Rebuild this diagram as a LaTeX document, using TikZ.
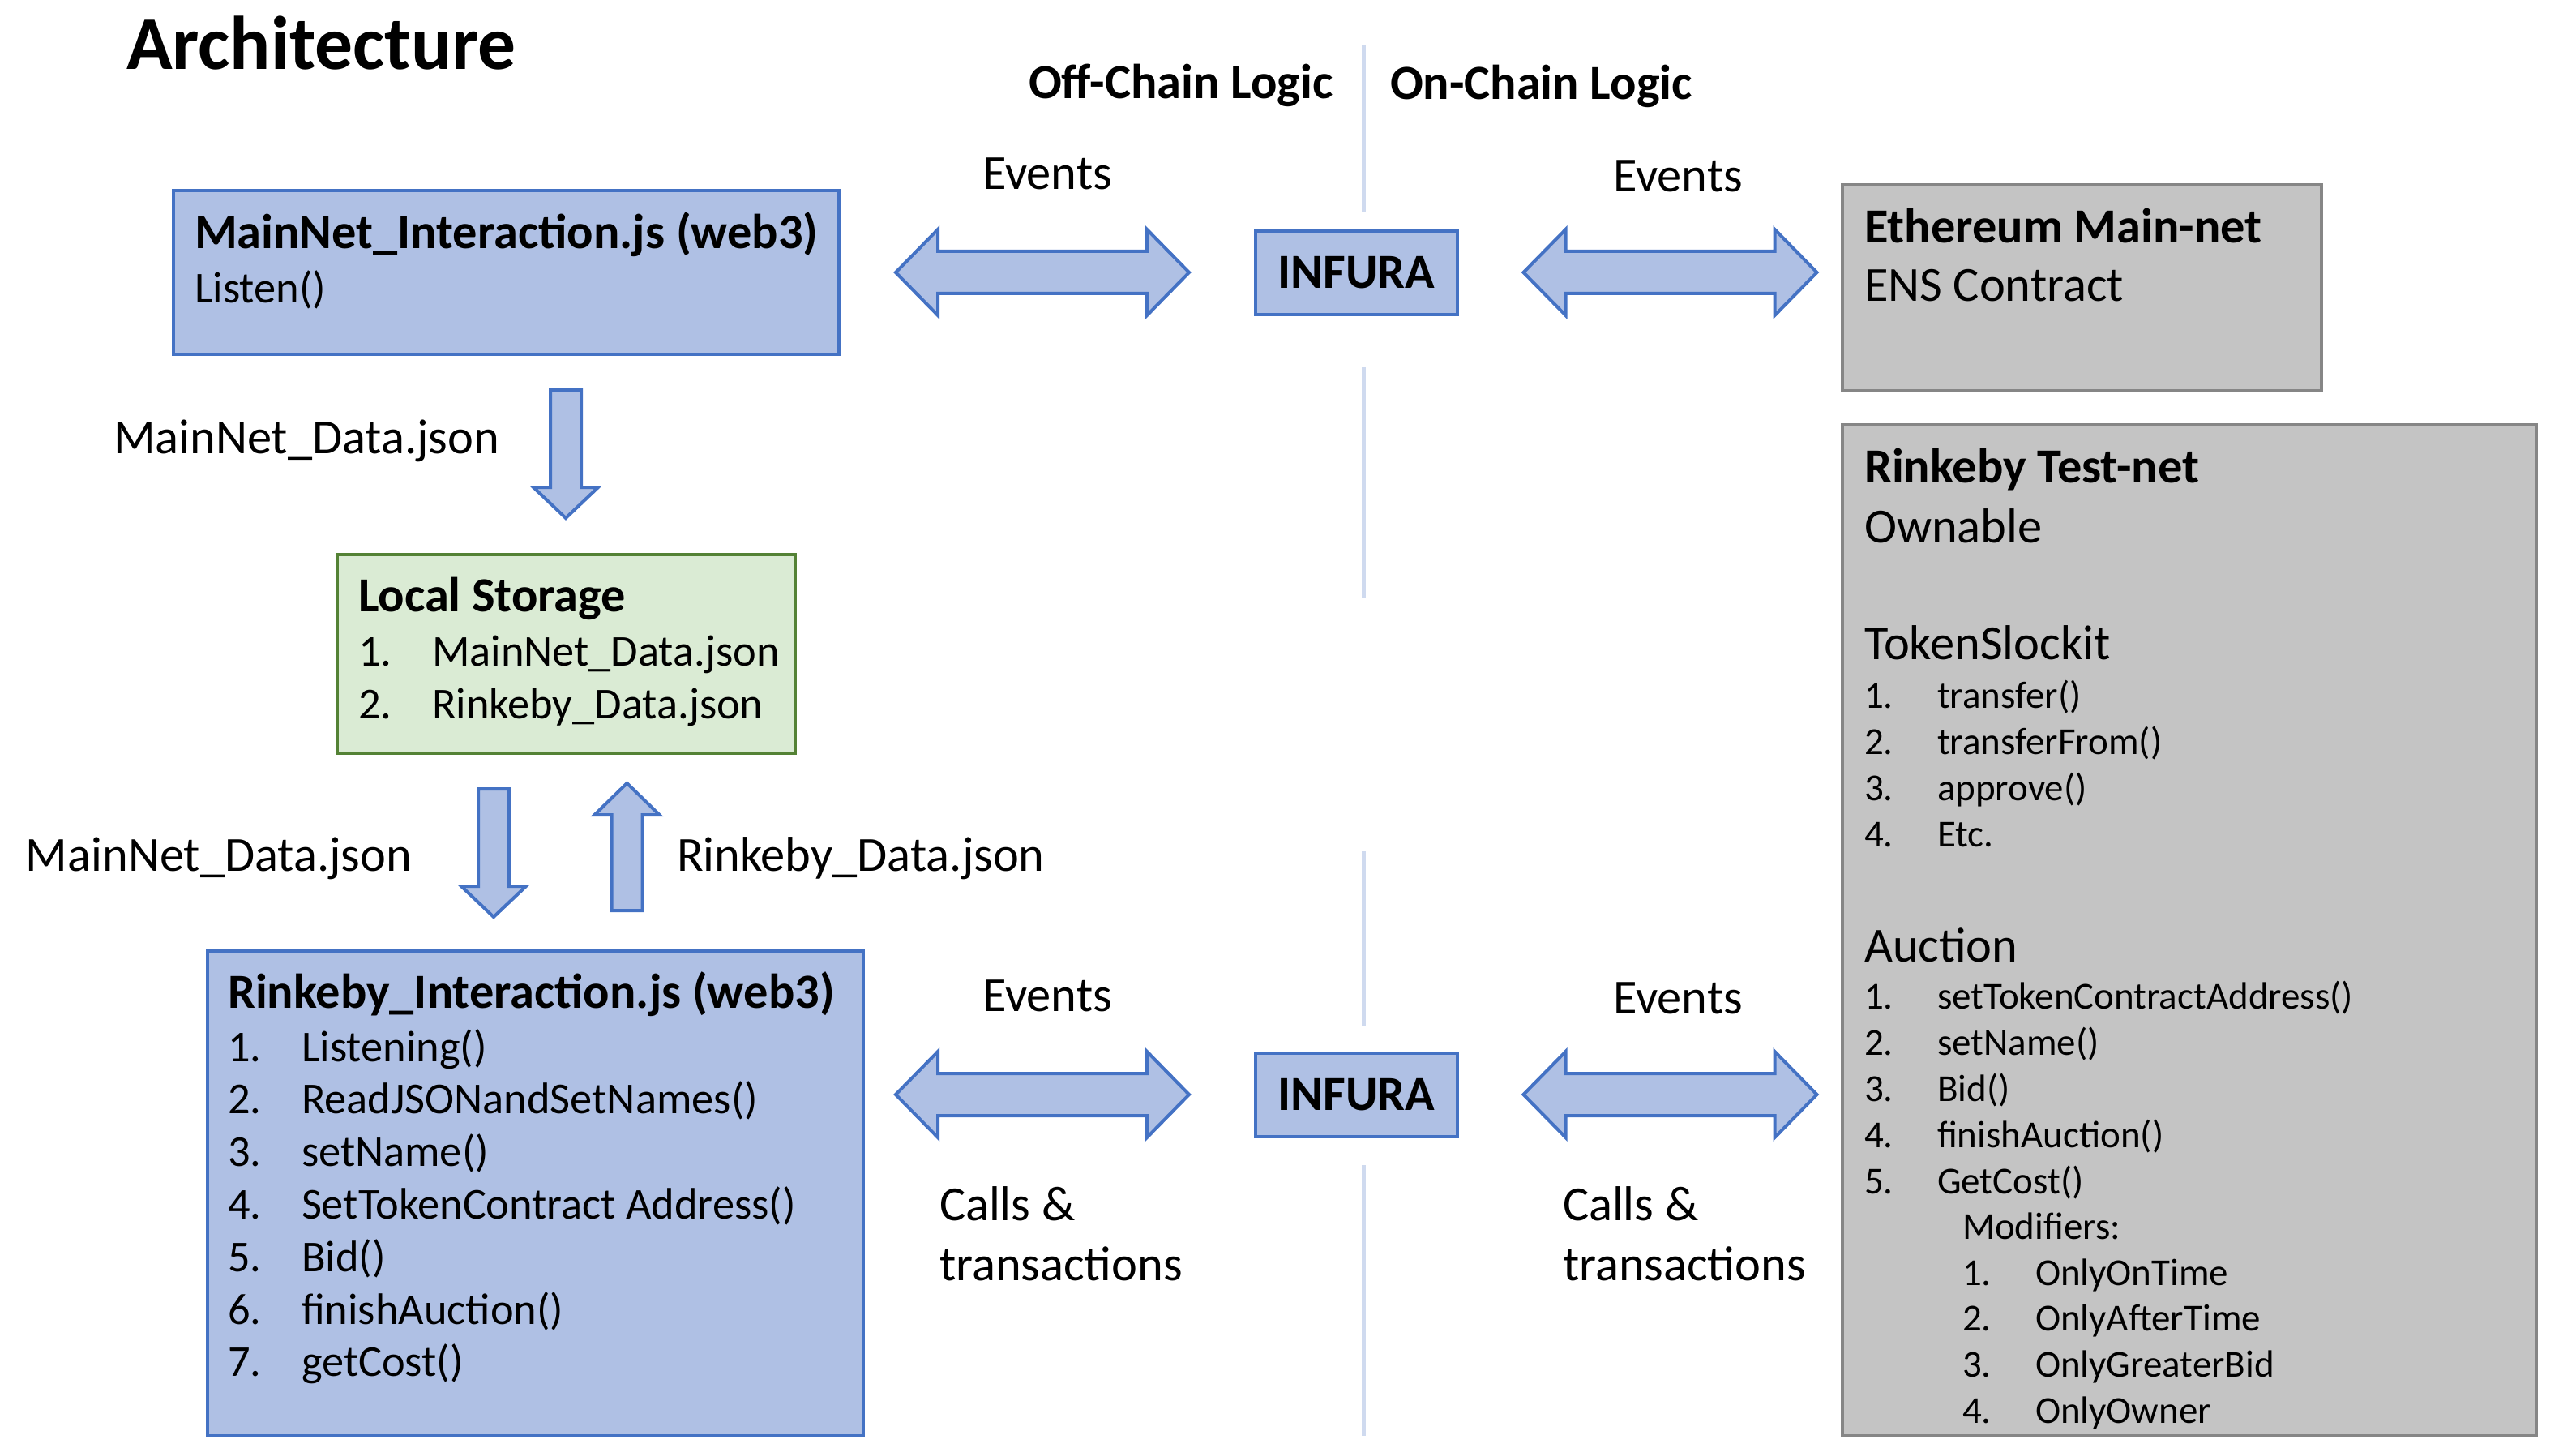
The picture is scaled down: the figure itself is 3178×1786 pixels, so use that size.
\documentclass[tikz,border=0pt]{standalone}
\usepackage{fontspec}
\setmainfont{Carlito}
\usetikzlibrary{fit}
\definecolor{bfill}{HTML}{AFC0E4}
\definecolor{bline}{HTML}{4472C4}
\definecolor{gfill}{HTML}{C4C4C4}
\definecolor{gline}{HTML}{868686}
\definecolor{lfill}{HTML}{DAEBD4}
\definecolor{lline}{HTML}{548235}
\definecolor{divc}{HTML}{CFDAEF}
\newcommand{\ftitle}{\fontsize{23.4pt}{27pt}\selectfont\bfseries}
\newcommand{\fhead}{\fontsize{15.1pt}{18pt}\selectfont}
\newcommand{\fitem}{\fontsize{13.6pt}{16pt}\selectfont}
\newcommand{\fsmall}{\fontsize{11.75pt}{14pt}\selectfont}
\tikzset{
  boxbase/.style={inner sep=0pt, outer sep=0pt, line width=1pt},
  bluebox/.style={boxbase, draw=bline, fill=bfill},
  graybox/.style={boxbase, draw=gline, fill=gfill},
  greenbox/.style={boxbase, draw=lline, fill=lfill},
  txt/.style={anchor=base west, inner sep=0pt, outer sep=0pt},
  ctxt/.style={anchor=base, inner sep=0pt, outer sep=0pt},
  blockarrow/.style={draw=bline, fill=bfill, line width=1pt, line join=miter},
  divline/.style={draw=divc, line width=1.25pt},
  darrow/.pic={\path[blockarrow] (-181,0) -- (-129,-53) -- (-129,-26) -- (129,-26) -- (129,-53) -- (181,0) -- (129,53) -- (129,26) -- (-129,26) -- (-129,53) -- cycle;},
  downarrow/.pic={\path[blockarrow] (-19,0) -- (19,0) -- (19,120) -- (40,120) -- (0,158) -- (-40,120) -- (-19,120) -- cycle;},
  uparrow/.pic={\path[blockarrow] (-19,0) -- (19,0) -- (19,-118) -- (40,-118) -- (0,-157) -- (-40,-118) -- (-19,-118) -- cycle;},
}
\begin{document}
\begin{tikzpicture}[x=0.25pt,y=-0.25pt]
\useasboundingbox (0,0) rectangle (3178,1786);

% divider
\coordinate (d1a) at (1682,55);   \coordinate (d1b) at (1682,262);
\coordinate (d2a) at (1682,453);  \coordinate (d2b) at (1682,738);
\coordinate (d3a) at (1682,1050); \coordinate (d3b) at (1682,1266);
\coordinate (d4a) at (1682,1437); \coordinate (d4b) at (1682,1771);
\draw[divline] (d1a) -- (d1b);
\draw[divline] (d2a) -- (d2b);
\draw[divline] (d3a) -- (d3b);
\draw[divline] (d4a) -- (d4b);

% headings
\node[txt, font=\ftitle] (title) at (156,86) {Architecture};
\node[txt, font=\fhead\bfseries] (offc) at (1269,122) {Off-Chain Logic};
\node[txt, font=\fhead\bfseries] (onc) at (1715,123) {On-Chain Logic};

% MainNet box
\coordinate (mn1) at (214,235); \coordinate (mn2) at (1035,437);
\node[bluebox, fit=(mn1)(mn2)] (mainnet) {};
\node[txt, font=\fhead\bfseries] (mnt) at (240,307) {MainNet\_Interaction.js (web3)};
\node[txt, font=\fitem] (mnl) at (240,374) {Listen()};

% Local storage box
\coordinate (ls1) at (416,684); \coordinate (ls2) at (981,929);
\node[greenbox, fit=(ls1)(ls2)] (local) {};
\node[txt, font=\fhead\bfseries] (lst) at (442,754) {Local Storage};
\node[txt, font=\fitem] (ls1n) at (442,821) {1.};
\node[txt, font=\fitem] (ls1t) at (533,821) {MainNet\_Data.json};
\node[txt, font=\fitem] (ls2n) at (442,886) {2.};
\node[txt, font=\fitem] (ls2t) at (533,886) {Rinkeby\_Data.json};

% Rinkeby interaction box
\coordinate (ri1) at (256,1173); \coordinate (ri2) at (1065,1771);
\node[bluebox, fit=(ri1)(ri2)] (rinkint) {};
\node[txt, font=\fhead\bfseries] (rit) at (281,1243) {Rinkeby\_Interaction.js (web3)};
\foreach \t [count=\k] in {Listening(), ReadJSONandSetNames(), setName(), SetTokenContract Address(), Bid(), finishAuction(), getCost()}{
  \node[txt, font=\fitem] (ri-\k-n) at (281,{1309+64.8*(\k-1)}) {\k.};
  \node[txt, font=\fitem] (ri-\k-t) at (372,{1309+64.8*(\k-1)}) {\t};
}

% vertical block arrows
\coordinate (va1) at (698,481);
\coordinate (va2) at (609,973);
\coordinate (va3) at (773.5,1123);
\pic at (va1) {downarrow};
\pic at (va2) {downarrow};
\pic at (va3) {uparrow};
\node[txt, font=\fhead] (lab1) at (140,559) {MainNet\_Data.json};
\node[txt, font=\fhead] (lab2) at (32,1074) {MainNet\_Data.json};
\node[txt, font=\fhead] (lab3) at (835,1074) {Rinkeby\_Data.json};

% INFURA boxes
\coordinate (i1a) at (1549,285); \coordinate (i1b) at (1798,388);
\node[bluebox, fit=(i1a)(i1b)] (inf1) {};
\node[font=\fhead\bfseries, inner sep=0pt] (inf1t) at (inf1.center) {INFURA};
\coordinate (i2a) at (1549,1299); \coordinate (i2b) at (1798,1402);
\node[bluebox, fit=(i2a)(i2b)] (inf2) {};
\node[font=\fhead\bfseries, inner sep=0pt] (inf2t) at (inf2.center) {INFURA};

% horizontal double arrows
\coordinate (ha1) at (1286,336);
\coordinate (ha2) at (2060.5,336);
\coordinate (ha3) at (1286,1350);
\coordinate (ha4) at (2060.5,1350);
\pic at (ha1) {darrow};
\pic at (ha2) {darrow};
\pic at (ha3) {darrow};
\pic at (ha4) {darrow};
\node[ctxt, font=\fhead] (ev1) at (1292,234) {Events};
\node[ctxt, font=\fhead] (ev2) at (2070,237) {Events};
\node[ctxt, font=\fhead] (ev3) at (1292,1247) {Events};
\node[ctxt, font=\fhead] (ev4) at (2070,1250) {Events};
\node[txt, font=\fhead] (ct1a) at (1159,1505) {Calls \&};
\node[txt, font=\fhead] (ct1b) at (1159,1579) {transactions};
\node[txt, font=\fhead] (ct2a) at (1928,1505) {Calls \&};
\node[txt, font=\fhead] (ct2b) at (1928,1579) {transactions};

% Ethereum box
\coordinate (e1) at (2273,228); \coordinate (e2) at (2864,482);
\node[graybox, fit=(e1)(e2)] (eth) {};
\node[txt, font=\fhead\bfseries] (etht) at (2300,300) {Ethereum Main-net};
\node[txt, font=\fhead] (ens) at (2300,372) {ENS Contract};

% Rinkeby test-net box
\coordinate (rt1) at (2273,524); \coordinate (rt2) at (3129,1771);
\node[graybox, fit=(rt1)(rt2)] (rtest) {};
\node[txt, font=\fhead\bfseries] (rtt) at (2300,596) {Rinkeby Test-net};
\node[txt, font=\fhead] (own) at (2300,669) {Ownable};
\node[txt, font=\fhead] (tsl) at (2300,813) {TokenSlockit};
\foreach \t [count=\k] in {transfer(), transferFrom(), approve(), Etc.}{
  \node[txt, font=\fsmall] (ts-\k-n) at (2300,{873+57*(\k-1)}) {\k.};
  \node[txt, font=\fsmall] (ts-\k-t) at (2390,{873+57*(\k-1)}) {\t};
}
\node[txt, font=\fhead] (auc) at (2300,1186) {Auction};
\foreach \t [count=\k] in {setTokenContractAddress(), setName(), Bid(), finishAuction(), GetCost()}{
  \node[txt, font=\fsmall] (au-\k-n) at (2300,{1244+57*(\k-1)}) {\k.};
  \node[txt, font=\fsmall] (au-\k-t) at (2390,{1244+57*(\k-1)}) {\t};
}
\node[txt, font=\fsmall] (mods) at (2421,1528) {Modifiers:};
\foreach \t [count=\k] in {OnlyOnTime, OnlyAfterTime, OnlyGreaterBid, OnlyOwner}{
  \node[txt, font=\fsmall] (mo-\k-n) at (2421,{1585+56.7*(\k-1)}) {\k.};
  \node[txt, font=\fsmall] (mo-\k-t) at (2511,{1585+56.7*(\k-1)}) {\t};
}
\end{tikzpicture}
\end{document}
